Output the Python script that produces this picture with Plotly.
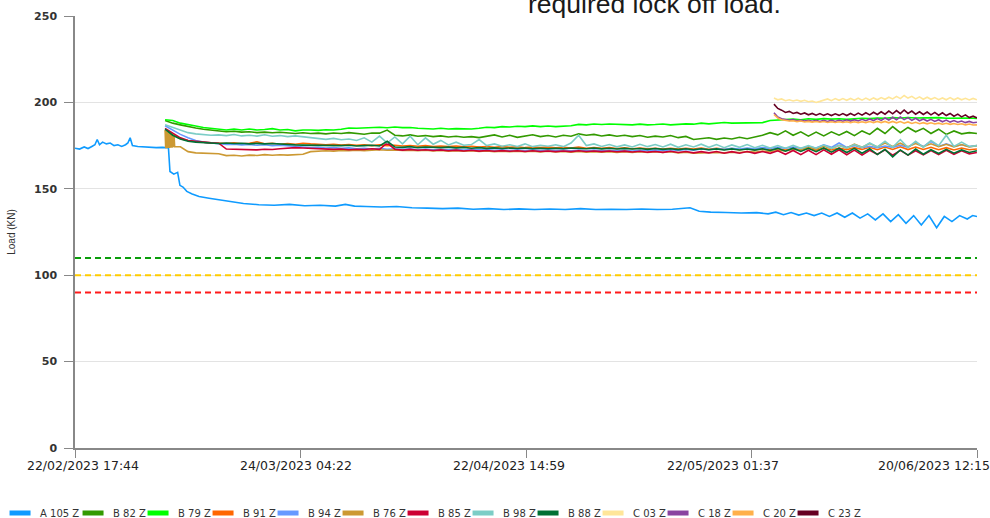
import pandas as pd
import plotly.graph_objects as go

# ---------------- data ----------------
START = pd.Timestamp("2023-02-22 17:44")
END = pd.Timestamp("2023-06-20 12:15")

b_times = pd.date_range("2023-03-06 12:00", "2023-06-20 12:00", freq="D")
c_times = pd.date_range("2023-05-25 00:00", "2023-06-20 12:00", freq="12h")

a105_days = [0, 0.6, 1.2, 1.7, 2.2, 2.6, 2.9, 3.2, 3.6, 4.1,
             4.6, 5.1, 5.6, 6.1, 6.6, 6.9, 7.2, 7.5, 8.2, 9.0,
             9.8, 10.6, 11.4, 12.2, 12.4, 12.9, 13.4, 13.7, 14.1, 14.6,
             15.3, 16.2, 17.5, 19, 20.5, 22, 24, 26, 28, 30,
             32, 34, 35.3, 36.5, 38, 40, 42, 44, 46, 48,
             50, 52, 54, 56, 58, 60, 62, 64, 66, 68,
             70, 72, 74, 76, 78, 80.3, 81.5, 83, 85, 87,
             89, 90.5, 91.5, 92.5, 93.5, 94.5, 95.5, 96.5, 97.5, 98.5,
             99.5, 100.5, 101.5, 102.5, 103.5, 104.5, 105.5, 106.5, 107.5, 108.5,
             109.5, 110.5, 111.5, 112.5, 113.5, 114.5, 115.5, 116.5, 117.2, 117.77]
a105_vals = [173.5, 173, 174.2, 173.3, 174.5, 175.5, 178.5, 175.5, 177, 176,
             176.5, 175, 175.5, 174.5, 175.5, 176.5, 179.5, 175, 174.5, 174.2,
             174, 173.8, 174, 173.8, 160, 158.5, 159.5, 152, 151, 148.5,
             147, 145.5, 144.5, 143.5, 142.5, 141.5, 140.8, 140.5, 141, 140.2,
             140.5, 140, 141, 140, 139.8, 139.5, 139.8, 139, 138.8, 138.5,
             138.8, 138.2, 138.5, 138, 138.4, 138, 138.3, 138, 138.5, 138,
             138.2, 138, 138.3, 138, 138.2, 139, 137, 136.5, 136.3, 136,
             136.2, 135.5, 136.5, 135, 136.3, 134.8, 136, 134.5, 136, 134,
             136, 133.5, 136, 133, 135.5, 132, 135.5, 131, 135, 130,
             134.5, 129, 134.5, 127.5, 134, 131, 134.5, 132.5, 134.5, 134]

b82 = [189.5, 188, 187, 186, 185.2, 184.5, 184, 183.5, 183, 183.3,
       182.8, 183, 182.5, 182.8, 182.4, 182.7, 182.3, 182, 182.4, 182,
       182.2, 181.8, 182.3, 182, 182.5, 182, 181.6, 182.3, 182.2, 184,
       181, 180.6, 181.2, 180.4, 180.8, 180.2, 180.6, 180, 180.4, 179.8,
       180.2, 179.6, 180.5, 181.2, 180, 181, 179.8, 180.6, 181.3, 180.2,
       180.8, 180, 181, 180.4, 181.8, 181, 181.5, 180.6, 181.2, 180.4,
       181, 180.2, 180.8, 179.8, 180.5, 180, 180.8, 179.6, 180.3, 178.5,
       178.8, 179.5, 178.6, 179.4, 178.8, 179.8, 179, 180, 181, 182.5,
       181.2, 183.5, 181, 183, 180.5, 182.8, 180.6, 183, 181, 183.2,
       180.8, 183.5, 181.5, 185, 182, 186, 182.5, 185.5, 183, 185,
       182, 184.5, 181.5, 183.5, 181.8, 182.5, 182]
b79 = [190, 189.5, 188, 187, 186.3, 185.5, 185, 184.3, 184, 184.5,
       184, 184.6, 184, 184.3, 184.8, 184, 184.3, 183.5, 184, 184,
       183.8, 184.2, 184, 184.5, 185.2, 185, 185.2, 185, 185.6, 185.3,
       185.8, 185.4, 185.5, 185, 184.8, 184.6, 185, 184.6, 184.8, 184.5,
       184.6, 185, 185.6, 185.4, 186, 185.8, 186.2, 186, 186.4, 186,
       186.3, 186, 186.2, 186.5, 187.3, 187, 187.5, 187.2, 187.5, 187.4,
       187.2, 187, 187.4, 187, 187.2, 187.5, 187, 187.3, 187.6, 187.4,
       188, 187.6, 188, 188.4, 188, 188, 188.2, 188, 188.3, 189.5,
       189.8, 190, 190.3, 190, 190.5, 190.2, 190.6, 190.3, 190.5, 190.2,
       190.5, 190.8, 190.6, 191, 190.8, 191.2, 191, 191.3, 191, 191.2,
       191, 191.2, 190.8, 191, 190.8, 191, 190.7]
b91 = [183.5, 181, 179, 178, 177.3, 177, 176.6, 176.5, 176.2, 176.6,
       176, 176.4, 177.2, 176, 176.4, 175.8, 176.2, 175.8, 176.4, 176,
       175.8, 175.5, 175.8, 175.3, 175.6, 175.2, 175.5, 175, 175.4, 175,
       175.2, 174.8, 175.1, 174.6, 175, 174.5, 174.8, 174.4, 174.7, 174.3,
       174.6, 174.2, 174.5, 174, 174.4, 174, 174.3, 173.8, 174.2, 173.8,
       174.1, 173.7, 174, 173.6, 174.2, 173.5, 173.9, 173.4, 173.8, 173.3,
       173.7, 173.2, 173.6, 173.1, 173.5, 173, 173.5, 173, 173.4, 173,
       173.6, 172.8, 173.4, 172.8, 173.3, 172.7, 173.2, 172.6, 173.1, 172.6,
       173.2, 172.5, 173.3, 172.4, 173.3, 172.4, 173.4, 172.5, 173.6, 172.6,
       173.8, 172.8, 174, 172.6, 174.2, 172.8, 174.3, 172.7, 174.2, 172.8,
       174, 172.6, 173.8, 172.5, 173.6, 172.6, 173]
b94 = [186.5, 184, 181.5, 179.5, 178, 177, 176.4, 176, 175.6, 175.8,
       175.4, 175.6, 175.2, 175.5, 175, 175.3, 174.8, 174.5, 174.2, 173.8,
       174, 173.6, 173.8, 173.4, 173.7, 173.2, 173.5, 173, 173.4, 172.8,
       173.2, 172.8, 173.1, 172.6, 173, 172.6, 172.9, 172.5, 172.8, 172.4,
       172.8, 172.5, 172.7, 172.3, 172.6, 172.2, 172.6, 172.2, 172.5, 172.2,
       172.5, 172.1, 172.4, 172, 172.4, 172, 172.4, 172, 172.3, 172,
       172.3, 171.9, 172.3, 172, 172.4, 172.1, 172.6, 172.2, 172.8, 172.4,
       173, 172.6, 173.2, 172.8, 173.5, 173, 173.6, 173.2, 173.8, 173.4,
       174, 173.5, 174.2, 173.5, 174.3, 173.6, 175.5, 174, 176.5, 174,
       175, 173.8, 174.6, 173.8, 174.8, 174, 175.2, 174, 177, 174.4,
       177.5, 174.5, 176, 174.5, 175.5, 174.4, 175]
b76_burst_hours = [0, 2, 4, 6, 8, 10, 12, 14, 16, 18, 20, 22, 24, 26, 28, 30]
b76_burst_vals = [184, 173.5, 183.8, 173.5, 183.5, 173.6, 183.2, 173.6,
                  183, 173.8, 182.5, 173.8, 182, 174, 181, 174.4]
b76 = [174.3, 171.5, 170.8, 170.5, 170.6, 170.3, 169.2, 169.4,
       169, 169.5, 169.3, 169.8, 169.4, 169.7, 169.5, 169.8, 170, 171.5,
       171.8, 172, 171.8, 172.2, 172, 172.3, 172, 172.4, 172.6, 172.3,
       172.5, 172.2, 172.4, 172, 172.3, 171.9, 172.2, 171.8, 172.1, 171.7,
       172, 171.6, 171.9, 171.5, 171.8, 171.4, 171.8, 171.4, 171.7, 171.3,
       171.7, 171.3, 171.6, 171.2, 171.6, 171.2, 171.5, 171.2, 171.5, 171.1,
       171.5, 171.1, 171.4, 171, 171.4, 171, 171.4, 170.8, 171.2, 170.6,
       170.8, 170.6, 171, 170.8, 171.2, 171, 171.5, 171.2, 171.8, 171.6,
       172.2, 172, 172.8, 172.5, 174, 173, 174.6, 173.2, 175.2, 173.6,
       175.8, 174, 176.2, 174.2, 176.5, 174.5, 176.4, 174.4, 176.2, 174.4,
       176, 174.4, 175.8, 174.2, 175.6, 174.2, 175]
b85 = [185, 182, 179.5, 178, 177.3, 177, 176.6, 176.4, 173, 172.8,
       172.6, 172.8, 172.5, 172.9, 172.7, 173.2, 173.5, 173.8, 173.6, 173.4,
       173, 173.2, 172.8, 173, 172.6, 172.9, 172.7, 173.2, 172.8, 176.5,
       172.9, 172.4, 172.8, 172.3, 172.6, 172.2, 172.5, 172, 172.4, 171.9,
       172.3, 171.8, 172.2, 171.7, 172.1, 171.7, 172, 171.6, 172, 171.6,
       171.9, 171.5, 171.9, 171.5, 172, 171.6, 171.9, 171.5, 171.9, 171.4,
       171.8, 171.3, 171.7, 171.2, 171.6, 171.1, 171.7, 171, 171.6, 170.8,
       171.5, 170.8, 171.6, 170.6, 171.5, 170.6, 171.6, 170.5, 171.6, 170.5,
       172, 170, 172.2, 169.8, 172.3, 169.8, 172.5, 170, 172.6, 169.7,
       172.4, 169.5, 172.3, 170, 172.5, 169.4, 172.2, 169.5, 172, 169.6,
       172.2, 169.8, 172.3, 170, 172, 170.2, 171]
b98 = [187, 185.5, 184, 182.5, 181.8, 181.3, 181, 181.2, 180.8, 181.4,
       180.6, 181, 180.5, 181.3, 180.4, 180.8, 180.2, 180.6, 180, 179.5,
       179, 178.6, 179.2, 178.4, 178.8, 178, 179.5, 177, 180.5, 176.5,
       180, 176, 180.5, 175.5, 179.5, 175.8, 178, 175.4, 177, 175.2,
       175.6, 178.5, 175, 176, 174.6, 175.5, 174.5, 176, 174.4, 175.2,
       174.6, 175.5, 174.4, 176.5, 181, 175, 176, 174.5, 175.6, 174.3,
       175.4, 174.2, 175.8, 174.4, 175.6, 174.2, 175.8, 174, 175.5, 174.2,
       175.8, 174, 175.6, 173.8, 175.4, 174, 175.6, 173.8, 175.2, 173.6,
       175, 173.5, 175.2, 173.4, 175, 173.5, 175.3, 173.4, 175, 173.6,
       175.6, 174, 176.5, 174.2, 177.5, 174, 178.5, 173.8, 177.5, 174,
       178, 175, 181, 174.5, 177, 174.5, 175]
b88 = [184.5, 181, 178.8, 177.5, 177, 176.6, 176.4, 176.2, 176.5, 176.2,
       176.4, 176, 176.3, 176, 176.2, 175.8, 175.6, 175.4, 175.3, 175.2,
       175.5, 175, 175.3, 175, 175.2, 174.8, 175, 175.2, 174.8, 177.5,
       174.2, 174, 174.4, 173.8, 174.2, 174, 173.8, 174.1, 173.7, 174,
       173.5, 173.8, 173.4, 173.7, 173.3, 173.6, 173.3, 173.6, 173.2, 173.5,
       173.2, 173.5, 173.2, 173.6, 173.4, 173.2, 173.6, 173.1, 173.5, 173,
       173.4, 173, 173.3, 172.8, 173.3, 172.8, 173.2, 172.7, 173.2, 172.6,
       173.2, 172.6, 173.1, 172.5, 173.1, 172.5, 173, 172.4, 173.2, 172.2,
       173.4, 171.8, 173.5, 171.6, 173.4, 171.5, 173.6, 171.2, 173.5, 171,
       173.4, 170.6, 173.2, 169.8, 172.8, 168.5, 172.5, 169.5, 173, 170,
       172.6, 170.4, 172.8, 170.6, 172.5, 171, 172]

c03 = [202.5, 201.5, 202, 201, 201.5, 200.8, 201.4, 200.6, 201.2, 200.4,
       200.8, 200, 200.6, 201.5, 202, 201, 202.2, 201.2, 202.2, 201.2,
       202.3, 201.3, 202.4, 201.3, 202.5, 201.4, 202.6, 201.5, 202.8, 201.8,
       203, 202, 203.5, 202.2, 204, 202.5, 203.5, 202, 203.2, 201.8,
       203, 201.8, 202.8, 201.6, 202.6, 201.5, 202.8, 201.5, 202.6, 201.5,
       202.4, 201.4, 202.3, 201.5]
c18 = [194, 191.5, 190.5, 190, 189.6, 190, 189.4, 189.8, 189.2, 189.7,
       189.1, 189.6, 189, 189.6, 189, 189.7, 189, 189.8, 189.1, 189.9,
       189.2, 190, 189.3, 190.2, 189.4, 190.4, 189.5, 190.6, 189.6, 191,
       189.8, 191.4, 190, 191.6, 190, 191.2, 189.6, 190.8, 189.4, 190.4,
       189.2, 190.2, 189, 190, 188.8, 189.8, 188.6, 189.5, 188.5, 189.2,
       188.3, 189, 188.2, 188.5]
c20 = [193, 191, 190, 189.5, 189.2, 189.4, 188.9, 189.2, 188.7, 189,
       188.6, 188.9, 188.5, 188.9, 188.4, 188.8, 188.4, 188.8, 188.4, 188.8,
       188.3, 188.8, 188.3, 188.8, 188.3, 188.9, 188.3, 189, 188.3, 189,
       188.2, 189, 188.2, 188.9, 188, 188.7, 187.8, 188.5, 187.7, 188.3,
       187.6, 188.2, 187.5, 188, 187.4, 187.9, 187.3, 187.8, 187.2, 187.6,
       187, 187.5, 186.9, 187]
c23 = [199, 196.5, 195.5, 194.2, 194.8, 193.6, 194.2, 193.2, 193.9, 192.8,
       193.6, 192.6, 193.5, 192.5, 193.4, 192.4, 193.4, 192.5, 193.5, 192.4,
       193.6, 192.5, 193.8, 192.6, 194, 192.8, 194.3, 193, 194.6, 193.2,
       195, 193.4, 195.3, 193.5, 195.6, 193.6, 195, 193.2, 194.6, 193,
       194.4, 192.8, 194.2, 192.6, 194, 192.4, 193.6, 192, 193.2, 191.6,
       192.8, 191.2, 192, 191]

series_names = ["A105Z", "B82Z", "B79Z", "B91Z", "B94Z", "B76Z", "B85Z",
                "B98Z", "B88Z", "C03Z", "C18Z", "C20Z", "C23Z"]
legend_labels = ["A 105 Z", "B 82 Z", "B 79 Z", "B 91 Z", "B 94 Z", "B 76 Z", "B 85 Z",
                 "B 98 Z", "B 88 Z", "C 03 Z", "C 18 Z", "C 20 Z", "C 23 Z"]
series_colors = ["#0f9bff", "#339a00", "#00ff00", "#ff6600", "#6699ff", "#cc9933",
                 "#cc0033", "#7ccdc6", "#007034", "#ffe699", "#8a43a0", "#ffb04a",
                 "#660022"]

threshold_values = [110, 100, 90]
threshold_colors = ["#0a9e0a", "#ffcc00", "#ff1a1a"]

y_ticks = [0, 50, 100, 150, 200, 250]
x_tick_dates = ["2023-02-22 17:44", "2023-03-24 04:22", "2023-04-22 14:59",
                "2023-05-22 01:37", "2023-06-20 12:15"]
x_tick_labels = ["22/02/2023 17:44", "24/03/2023 04:22", "22/04/2023 14:59",
                 "22/05/2023 01:37", "20/06/2023 12:15"]
x_label_offset_days = [1.04, 28.85, 56.67, 84.6, 112.15]

# ---------------- build ----------------
a105_times = [START + pd.Timedelta(days=d) for d in a105_days]
b76_times = [b_times[0] + pd.Timedelta(hours=h) for h in b76_burst_hours] + list(b_times[2:])
b76_all = b76_burst_vals + b76

series_x = [a105_times, b_times, b_times, b_times, b_times, b76_times, b_times,
            b_times, b_times, c_times, c_times, c_times, c_times]
series_y = [a105_vals, b82, b79, b91, b94, b76_all, b85, b98, b88, c03, c18, c20, c23]

fig = go.Figure()
for name, xs, ys, col in zip(series_names, series_x, series_y, series_colors):
    fig.add_trace(go.Scatter(x=list(xs), y=ys, mode="lines", name=name,
                             legendgroup=name, showlegend=False,
                             line=dict(color=col, width=1.6)))
# legend swatches (no data) placed on the label axis so that it gets drawn
n_items = len(series_names)
for i, (name, lab, col) in enumerate(zip(series_names, legend_labels, series_colors)):
    lw = 28 if i == 0 else (45 if i == n_items - 1 else 20)
    fig.add_trace(go.Scatter(x=[None], y=[None], mode="markers", name=lab,
                             xaxis="x2", legendgroup=name, showlegend=True,
                             legendwidth=lw,
                             marker=dict(symbol="line-ew", size=15, color=col,
                                         line=dict(color=col, width=6))))

shapes = []
for v, c in zip(threshold_values, threshold_colors):
    shapes.append(dict(type="line", xref="paper", x0=0, x1=1, yref="y", y0=v, y1=v,
                       line=dict(color=c, width=2, dash="6px,4px"), layer="above"))

label_dates = [START + pd.Timedelta(days=d) for d in x_label_offset_days]

fig.update_layout(
    width=990, height=518,
    margin=dict(l=75, r=13, t=16, b=70, autoexpand=False),
    paper_bgcolor="white", plot_bgcolor="white",
    font=dict(family="DejaVu Sans", color="#333333"),
    showlegend=True,
    legend=dict(orientation="h", x=-0.0831, xanchor="left", y=-0.1505, yanchor="middle",
                entrywidth=20, entrywidthmode="pixels", itemsizing="trace",
                font=dict(family="DejaVu Sans", size=10, color="#333333"),
                bgcolor="rgba(0,0,0,0)"),
    shapes=shapes,
    xaxis=dict(type="date", range=[START, END], tickmode="array",
               tickvals=x_tick_dates, showticklabels=False,
               ticks="outside", ticklen=8, tickcolor="#888888", tickwidth=1,
               showline=True, linecolor="#888888", linewidth=1.5,
               showgrid=False, zeroline=False),
    xaxis2=dict(type="date", range=[START, END], overlaying="x", anchor="y",
                side="bottom", tickmode="array", tickvals=label_dates,
                ticktext=x_tick_labels, ticks="", showline=False, showgrid=False,
                zeroline=False, ticklabelstandoff=8,
                tickfont=dict(family="DejaVu Sans", size=12.5, color="#222222")),
    yaxis=dict(range=[0, 250], tickmode="array", tickvals=y_ticks,
               ticks="outside", ticklen=9, tickcolor="#888888",
               showline=True, linecolor="#888888", linewidth=1.5,
               showgrid=True, gridcolor="#e3e3e3", gridwidth=1, zeroline=False,
               ticklabelstandoff=5,
               tickfont=dict(family="DejaVu Sans", size=11, color="#333333", weight="bold"),
               title=dict(text="Load (KN)", standoff=17,
                          font=dict(family="Liberation Sans", size=10, color="#333333"))),
    annotations=[dict(text="required lock off load.", xref="paper", yref="paper",
                      x=0.6425, y=0.9874, xanchor="center", yanchor="bottom",
                      showarrow=False,
                      font=dict(family="Liberation Sans", size=26.5, color="#1a1a1a"))],
)

# the page's default 8px body margin would shift the chart; remove it
fig.write_html("out.html", config={"displayModeBar": False},
               post_script="document.body.style.margin='0';")
